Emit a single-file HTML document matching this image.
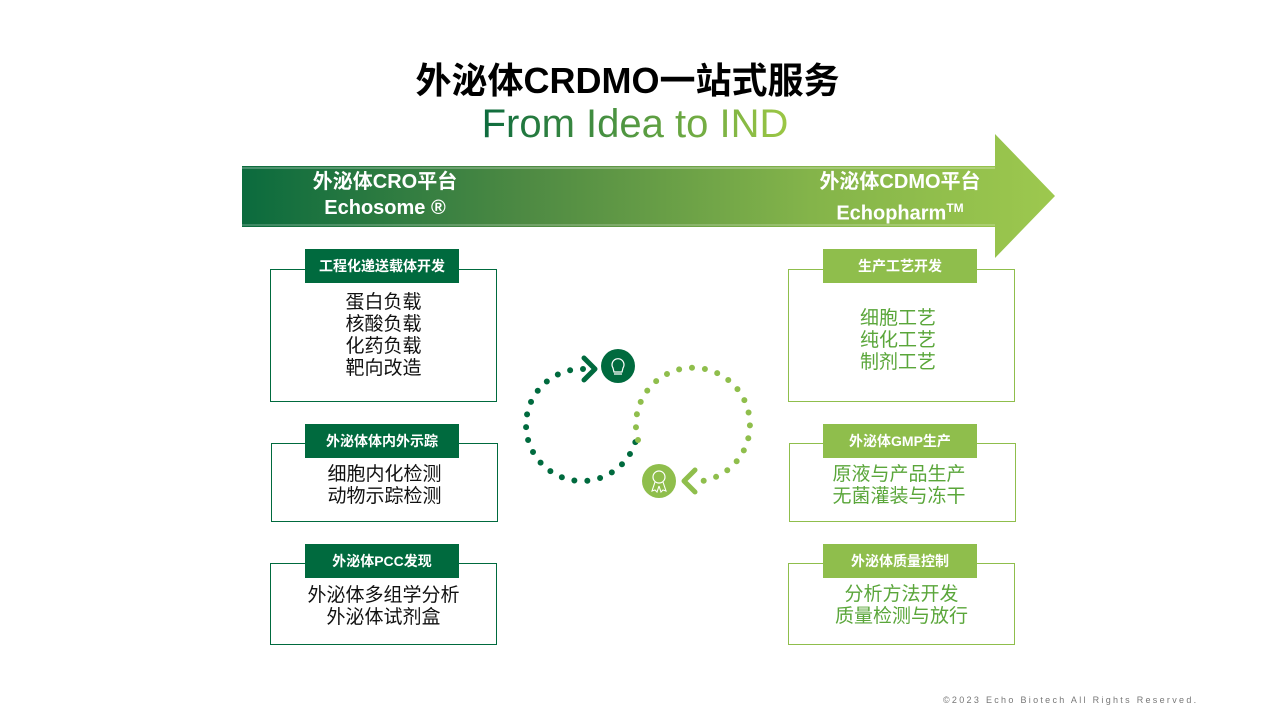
<!DOCTYPE html>
<html><head><meta charset="utf-8"><style>
body{margin:0;width:1280px;height:720px;background:#fff;position:relative;overflow:hidden;font-family:"Liberation Sans","Noto Sans CJK SC",sans-serif}
.a{position:absolute}
.t1{left:0;width:1255px;top:52px;text-align:center;font-size:36px;font-weight:bold;color:#000}
.t2{left:0;width:1270px;top:102px;text-align:center;font-size:40px;color:#2e8a48;background:linear-gradient(90deg,#0d6b3e 38%,#9cc745 62%);-webkit-background-clip:text;background-clip:text;-webkit-text-fill-color:transparent}
.box{position:absolute;border:1px solid #006a3e;box-sizing:border-box}
.hd{position:absolute;height:34px;line-height:34px;text-align:center;color:#fff;font-weight:bold;font-size:14px;background:#006a3e;width:154px}
.body{position:absolute;text-align:center;font-size:19px;line-height:22px;color:#111}
.lg{border-color:#8fbe4c!important}
.lh{background:#8fbe4c}
.gt{color:#5aa63a}
.pl{color:#fff;font-weight:bold;font-size:20px;line-height:26px;text-align:center}
</style></head><body>
<div class="a t1">外泌体CRDMO一站式服务</div>
<div class="a t2">From Idea to IND</div>
<svg class="a" style="left:0;top:0" width="1280" height="720">
<defs><linearGradient id="ag" x1="242" x2="1055" gradientUnits="userSpaceOnUse">
<stop offset="0" stop-color="#0b6b3e"/><stop offset="0.35" stop-color="#4e8a43"/><stop offset="0.7" stop-color="#84b44a"/><stop offset="1" stop-color="#9dc84e"/></linearGradient></defs>
<polygon points="242,166 995,166 995,134 1055,196 995,258 995,227 242,227" fill="url(#ag)"/>
<line x1="242" y1="168" x2="995" y2="168" stroke="#ffffff" stroke-opacity="0.25" stroke-width="2"/>
<line x1="242" y1="225" x2="995" y2="225" stroke="#ffffff" stroke-opacity="0.2" stroke-width="2"/>
<path d="M583 369 A56 56 0 1 0 636 440" fill="none" stroke="#006a3e" stroke-width="6" stroke-linecap="round" stroke-dasharray="0 13"/>
<path d="M584 358 L595 369 L584 380" fill="none" stroke="#006a3e" stroke-width="5" stroke-linecap="round" stroke-linejoin="round"/>
<circle cx="618" cy="366" r="17" fill="#006a3e"/>
<path d="M613 368 a6 6 0 1 1 10 0 l-1 4 h-8z M614 374 h8" fill="none" stroke="#fff" stroke-width="1.2"/>
<path d="M638 440 A57 57 0 1 1 702 481" fill="none" stroke="#8fbe4c" stroke-width="6" stroke-linecap="round" stroke-dasharray="0 13"/>
<path d="M695 470 L684 481 L695 492" fill="none" stroke="#8fbe4c" stroke-width="5" stroke-linecap="round" stroke-linejoin="round"/>
<circle cx="659" cy="481" r="17" fill="#8fbe4c"/>
<circle cx="659" cy="477" r="6" fill="none" stroke="#fff" stroke-width="1.2"/>
<path d="M655 482 l-3 9 l3-1 l2 2 l2-6 M663 482 l3 9 l-3-1 l-2 2 l-2-6" fill="none" stroke="#fff" stroke-width="1.1"/>
</svg>
<div class="a pl" style="left:290px;top:169px;width:190px">外泌体CRO平台<br>Echosome ®</div>
<div class="a pl" style="left:800px;top:169px;width:200px">外泌体CDMO平台<br>Echopharm<sup style="font-size:12px">TM</sup></div>

<div class="box" style="left:270px;top:269px;width:227px;height:133px"></div>
<div class="hd" style="left:305px;top:249px">工程化递送载体开发</div>
<div class="body" style="left:270px;top:292px;width:227px">蛋白负载<br>核酸负载<br>化药负载<br>靶向改造</div>

<div class="box" style="left:271px;top:443px;width:227px;height:79px"></div>
<div class="hd" style="left:305px;top:424px">外泌体体内外示踪</div>
<div class="body" style="left:271px;top:464px;width:227px">细胞内化检测<br>动物示踪检测</div>

<div class="box" style="left:270px;top:563px;width:227px;height:82px"></div>
<div class="hd" style="left:305px;top:544px">外泌体PCC发现</div>
<div class="body" style="left:270px;top:585px;width:227px">外泌体多组学分析<br>外泌体试剂盒</div>

<div class="box lg" style="left:788px;top:269px;width:227px;height:133px"></div>
<div class="hd lh" style="left:823px;top:249px">生产工艺开发</div>
<div class="body gt" style="left:788px;top:308px;width:220px">细胞工艺<br>纯化工艺<br>制剂工艺</div>

<div class="box lg" style="left:789px;top:443px;width:227px;height:79px"></div>
<div class="hd lh" style="left:823px;top:424px">外泌体GMP生产</div>
<div class="body gt" style="left:789px;top:464px;width:220px">原液与产品生产<br>无菌灌装与冻干</div>

<div class="box lg" style="left:788px;top:563px;width:227px;height:82px"></div>
<div class="hd lh" style="left:823px;top:544px">外泌体质量控制</div>
<div class="body gt" style="left:788px;top:584px;width:227px">分析方法开发<br>质量检测与放行</div>

<div class="a" style="left:943px;top:695px;font-size:9px;letter-spacing:2.3px;color:#777">©2023 Echo Biotech All Rights Reserved.</div>
</body></html>
